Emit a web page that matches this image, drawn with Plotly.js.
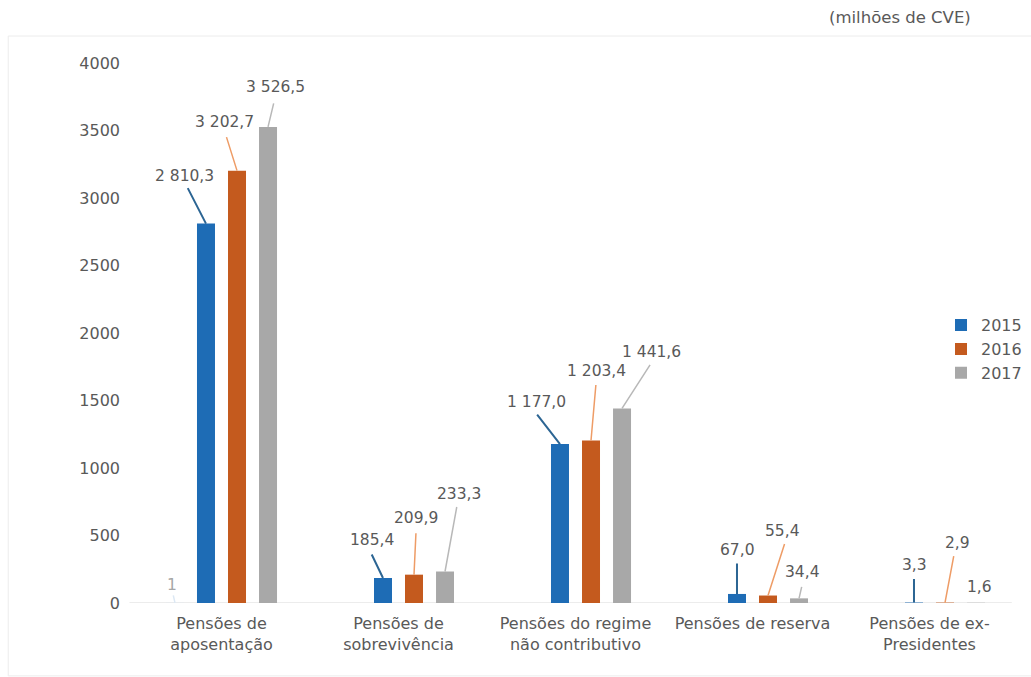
<!DOCTYPE html>
<html>
<head>
<meta charset="utf-8">
<script src="https://cdn.plot.ly/plotly-3.0.1.min.js"></script>
<style>
  html, body { margin: 0; padding: 0; background: #ffffff; }
  #chart { width: 1031px; height: 677px; }
</style>
</head>
<body>
<div id="chart"></div>
<script>
// Despesa com pensões por tipo, 2015-2017 (milhões de CVE)
const categories = [
  'Pensões de<br>aposentação',
  'Pensões de<br>sobrevivência',
  'Pensões do regime<br>não contributivo',
  'Pensões de reserva',
  'Pensões de ex-<br>Presidentes'
];
const years = ['2015', '2016', '2017'];
const v2015 = [2810.3, 185.4, 1177.0, 67.0, 3.3];
const v2016 = [3202.7, 209.9, 1203.4, 55.4, 2.9];
const v2017 = [3526.5, 233.3, 1441.6, 34.4, 1.6];
// extra series with a single point in the first group, labelled "1"
const vExtra = [1, null, null, null, null];
const yTicks = [0, 500, 1000, 1500, 2000, 2500, 3000, 3500, 4000];

// style
const FONT = 'DejaVu Sans, Liberation Sans, Arial, sans-serif';
const TXT = '#595959';
const barColors  = { extra: '#D9E8F6', '2015': '#1E6CB5', '2016': '#C45A1E', '2017': '#A8A8A8' };
const lineColors = { extra: '#DCE8F4', '2015': '#2C6593', '2016': '#EE9C66', '2017': '#B8B8B8' };
const labelColors = { extra: '#A6A6A6', '2015': TXT, '2016': TXT, '2017': TXT };

// label placement: [label dx, label dy, leader end dx, leader end dy] in px from bar top
const placement = {
  extra: [[-3, -18, -2, -9]],
  '2015': [[-21, -48, -19, -37], [-11, -38, -12, -25], [-23, -42, -24, -31], [1, -44, 0, -32], [1, -38, 0, -25]],
  '2016': [[-13, -49, -11, -35], [2, -57, 2, -43], [5, -70, 5, -57], [14, -65, 17, -53], [12, -60, 9, -48]],
  '2017': [[7, -40, 6, -25], [14, -78, 12, -66], [29, -56, 29, -45], [3, -26, 3, -13], [3, -16, null, null]]
};

// group geometry (category axis, 4 slots per group)
const BARGAP = 0.299;
const NSLOT = 4;
const slot = (1 - BARGAP) / NSLOT;

function fmt(v, decimals) {
  const s = v.toFixed(decimals);
  const parts = s.split('.');
  const int = parts[0].replace(/\B(?=(\d{3})+(?!\d))/g, ' ');
  return parts.length > 1 ? int + ',' + parts[1] : int;
}

const seriesDefs = [
  { key: 'extra', name: 'extra', values: vExtra, legend: false, decimals: 0 },
  { key: '2015', name: years[0], values: v2015, legend: true, decimals: 1 },
  { key: '2016', name: years[1], values: v2016, legend: true, decimals: 1 },
  { key: '2017', name: years[2], values: v2017, legend: true, decimals: 1 }
];

const traces = seriesDefs.map((s, k) => ({
  type: 'bar',
  name: s.name,
  x: categories,
  y: s.values,
  marker: { color: barColors[s.key] },
  showlegend: s.legend,
  legendgroup: 'g' + k,
  hoverinfo: 'x+y'
}));

const annotations = [];
seriesDefs.forEach((s, k) => {
  const shift = (k - (NSLOT - 1) / 2) * slot;
  s.values.forEach((v, i) => {
    if (v === null) return;
    const p = placement[s.key][i];
    const xPos = i + shift;
    // value label
    annotations.push({
      x: xPos, y: v, xref: 'x', yref: 'y',
      text: fmt(v, s.decimals),
      showarrow: false,
      xshift: p[0], yshift: -p[1],
      font: { family: FONT, size: 15.5, color: labelColors[s.key] }
    });
    // leader line
    if (p[2] !== null) {
      annotations.push({
        x: xPos, y: v, xref: 'x', yref: 'y',
        text: '', showarrow: true, arrowhead: 0,
        arrowwidth: s.key === '2015' ? 2 : 1.5,
        arrowcolor: lineColors[s.key],
        ax: p[2], ay: p[3], standoff: 0, startstandoff: 0
      });
    }
  });
});

annotations.push({
  xref: 'paper', yref: 'paper', x: 0.867, y: 1.085,
  xanchor: 'center', yanchor: 'middle',
  text: '(milhões de CVE)', showarrow: false,
  font: { family: FONT, size: 16.5, color: TXT }
});

const layout = {
  width: 1031,
  height: 677,
  margin: { l: 133, r: 13, t: 63, b: 74, autoexpand: false },
  paper_bgcolor: '#ffffff',
  plot_bgcolor: '#ffffff',
  font: { family: FONT, size: 16, color: TXT },
  barmode: 'group',
  bargap: BARGAP,
  bargroupgap: 0.42,
  xaxis: {
    type: 'category',
    range: [-0.5, categories.length - 0.5],
    showline: false,
    ticks: '', showgrid: false, zeroline: false,
    ticklabelstandoff: 9,
    tickfont: { family: FONT, size: 16, color: TXT },
    fixedrange: true
  },
  yaxis: {
    range: [0, 4000],
    tickvals: yTicks,
    ticktext: yTicks.map(String),
    showgrid: false, zeroline: false, showline: false,
    ticks: '', ticklabelstandoff: 12,
    tickfont: { family: FONT, size: 16, color: TXT },
    fixedrange: true
  },
  legend: {
    x: 0.913, xanchor: 'left',
    y: 0.47, yanchor: 'middle',
    font: { family: FONT, size: 16, color: TXT },
    traceorder: 'normal',
    tracegroupgap: 7,
    bgcolor: 'rgba(0,0,0,0)'
  },
  shapes: [
    {
      // outer chart frame
      type: 'rect', xref: 'paper', yref: 'paper',
      x0: -0.141, x1: 1.02, y0: -0.135, y1: 1.05,
      line: { color: '#ECECEC', width: 1 },
      fillcolor: 'rgba(0,0,0,0)', layer: 'below'
    },
    {
      // category axis baseline
      type: 'line', xref: 'paper', yref: 'y',
      x0: -0.004, x1: 0.993, y0: 0, y1: 0,
      line: { color: '#D9D9D9', width: 1 }, layer: 'below'
    }
  ],
  annotations: annotations
};

Plotly.newPlot('chart', traces, layout, { displayModeBar: false, staticPlot: true });
</script>
</body>
</html>
